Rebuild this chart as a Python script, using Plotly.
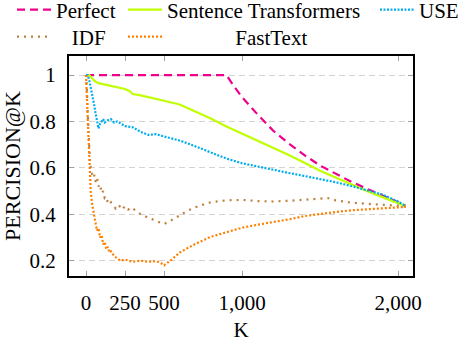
import plotly.graph_objects as go

# ---- data ----
perfect_k = [0, 900, 950, 1000, 1100, 1200, 1300, 1400, 1500, 1600, 1700, 1800, 1900, 2000, 2050]
perfect_p = [1, 1, 0.95, 0.905, 0.83, 0.76, 0.705, 0.655, 0.61, 0.575, 0.54, 0.51, 0.48, 0.45, 0.437]

st_k = [0, 20, 40, 60, 80, 100, 150, 200, 250, 280, 300, 350, 400, 450, 500, 600, 700, 800, 900,
        1000, 1100, 1200, 1300, 1400, 1500, 1600, 1700, 1800, 1900, 2000, 2050]
st_p = [1, 1, 0.985, 0.972, 0.965, 0.962, 0.955, 0.948, 0.94, 0.93, 0.918, 0.912, 0.905, 0.897, 0.889,
        0.873, 0.843, 0.813, 0.778, 0.748, 0.718, 0.688, 0.655, 0.622, 0.588, 0.558, 0.528, 0.5,
        0.474, 0.447, 0.435]

use_k = [0, 10, 20, 30, 40, 50, 60, 70, 80, 90, 100, 110, 120, 140, 160, 180, 200, 250, 300, 350,
         400, 450, 500, 550, 600, 700, 800, 900, 1000, 1100, 1200, 1300, 1400, 1500, 1600, 1700,
         1800, 1900, 2000, 2050]
use_p = [1, 1, 0.98, 0.95, 0.92, 0.88, 0.84, 0.8, 0.77, 0.79, 0.8, 0.81, 0.795, 0.805, 0.81, 0.795,
         0.8, 0.78, 0.775, 0.755, 0.742, 0.745, 0.735, 0.728, 0.718, 0.693, 0.668, 0.64, 0.62,
         0.605, 0.59, 0.578, 0.565, 0.552, 0.538, 0.522, 0.505, 0.485, 0.455, 0.435]

idf_k = [0, 5, 10, 15, 20, 25, 30, 40, 50, 60, 70, 80, 90, 100, 110, 120, 130, 140, 150, 170, 190,
         210, 230, 250, 270, 290, 320, 350, 400, 450, 500, 550, 600, 650, 700, 800, 900, 1000, 1100,
         1200, 1300, 1400, 1500, 1550, 1600, 1700, 1800, 1900, 2000, 2050]
idf_p = [1, 0.95, 0.85, 0.75, 0.68, 0.63, 0.6, 0.57, 0.58, 0.54, 0.56, 0.52, 0.53, 0.49, 0.5, 0.47,
         0.475, 0.45, 0.46, 0.44, 0.425, 0.44, 0.42, 0.435, 0.42, 0.43, 0.415, 0.4, 0.385, 0.37,
         0.358, 0.375, 0.395, 0.415, 0.43, 0.452, 0.46, 0.462, 0.457, 0.455, 0.458, 0.462, 0.467,
         0.47, 0.46, 0.45, 0.445, 0.442, 0.437, 0.433]

ft_k = [0, 5, 10, 15, 20, 25, 30, 40, 50, 60, 70, 80, 90, 100, 110, 120, 130, 140, 150, 160, 180,
        200, 220, 250, 280, 300, 350, 400, 450, 480, 500, 520, 550, 600, 700, 800, 900, 1000, 1100,
        1200, 1300, 1400, 1500, 1600, 1700, 1800, 1900, 2000, 2050]
ft_p = [1, 0.9, 0.8, 0.72, 0.62, 0.55, 0.5, 0.44, 0.4, 0.36, 0.33, 0.34, 0.3, 0.31, 0.27, 0.28,
        0.25, 0.26, 0.235, 0.24, 0.22, 0.21, 0.2, 0.205, 0.2, 0.195, 0.2, 0.195, 0.198, 0.19, 0.18,
        0.19, 0.205, 0.235, 0.272, 0.303, 0.322, 0.342, 0.355, 0.365, 0.378, 0.392, 0.402, 0.41,
        0.417, 0.422, 0.427, 0.43, 0.432]

x_tickvals = [0, 250, 500, 1000, 2000]
x_ticktext = ["0", "250", "500", "1,000", "2,000"]
y_tickvals = [0.2, 0.4, 0.6, 0.8, 1.0]
y_ticktext = ["0.2", "0.4", "0.6", "0.8", "1"]

FONT = "'Liberation Serif', 'DejaVu Serif', serif"
FS = 21
LFS = 21
W = 2.2
NB = "\u00a0"

L, R, T, B = 69, 49, 56, 66
PW, PH = 462 - L - R, 342 - T - B


def lx(px):
    return (px - L) / PW


def ly(py):
    return 1 + (T - py) / PH


fig = go.Figure()
fig.add_trace(go.Scatter(x=perfect_k, y=perfect_p, name="Perfect", mode="lines",
                         line=dict(color="#ec008c", width=W, dash="8px,5px"), legend="legend"))
fig.add_trace(go.Scatter(x=st_k, y=st_p, name="Sentence Transformers", mode="lines",
                         line=dict(color="#bfff00", width=W), legend="legend2"))
fig.add_trace(go.Scatter(x=use_k, y=use_p, name="USE", mode="lines",
                         line=dict(color="#00aeef", width=W, dash="2px,1.5px"), legend="legend3"))
fig.add_trace(go.Scatter(x=idf_k, y=idf_p, name=NB * 3 + "IDF", mode="lines",
                         line=dict(color="#bf8040", width=W, dash="2px,5px"), legend="legend4"))
fig.add_trace(go.Scatter(x=ft_k, y=ft_p, name=NB * 13 + "FastText", mode="lines",
                         line=dict(color="#ff8000", width=W, dash="2px,2px"), legend="legend5"))

tickfont = dict(family=FONT, size=FS, color="black")

fig.update_xaxes(range=[-109, 2096], tickvals=x_tickvals, ticktext=x_ticktext,
                 showgrid=False, showline=True, linecolor="black", linewidth=2, mirror="ticks",
                 ticks="inside", ticklen=5, tickwidth=1, tickcolor="#a0a0a0",
                 zeroline=False, tickfont=tickfont, ticklabelstandoff=7,
                 title=dict(text="K", font=tickfont, standoff=21))
fig.update_yaxes(range=[0.134, 1.082], tickvals=y_tickvals, ticktext=y_ticktext,
                 showgrid=True, gridcolor="#d3d3d3", gridwidth=1, griddash="6px,4px",
                 showline=True, linecolor="black", linewidth=2, mirror="ticks",
                 ticks="inside", ticklen=5, tickwidth=1, tickcolor="#a0a0a0",
                 zeroline=False, tickfont=tickfont, ticklabelstandoff=7,
                 title=dict(text="PERCISION@K", font=dict(family=FONT, size=22, color="black"),
                            standoff=8))


def leg(xpx, ypx, iw=34):
    return dict(orientation="h", xanchor="left", yanchor="middle", bgcolor="rgba(0,0,0,0)",
                font=dict(family=FONT, size=LFS, color="black"), itemwidth=iw,
                x=lx(xpx), y=ly(ypx))


fig.update_layout(
    width=462, height=342,
    margin=dict(l=L, r=R, t=T, b=B, autoexpand=False),
    plot_bgcolor="white", paper_bgcolor="white",
    legend=leg(12, 10),
    legend2=leg(123, 10),
    legend3=leg(375, 10),
    legend4=leg(12, 37),
    legend5=leg(123, 37),
    showlegend=True,
)

fig.write_html("out.html", config={"displayModeBar": False},
               post_script="document.body.style.margin='0';")
